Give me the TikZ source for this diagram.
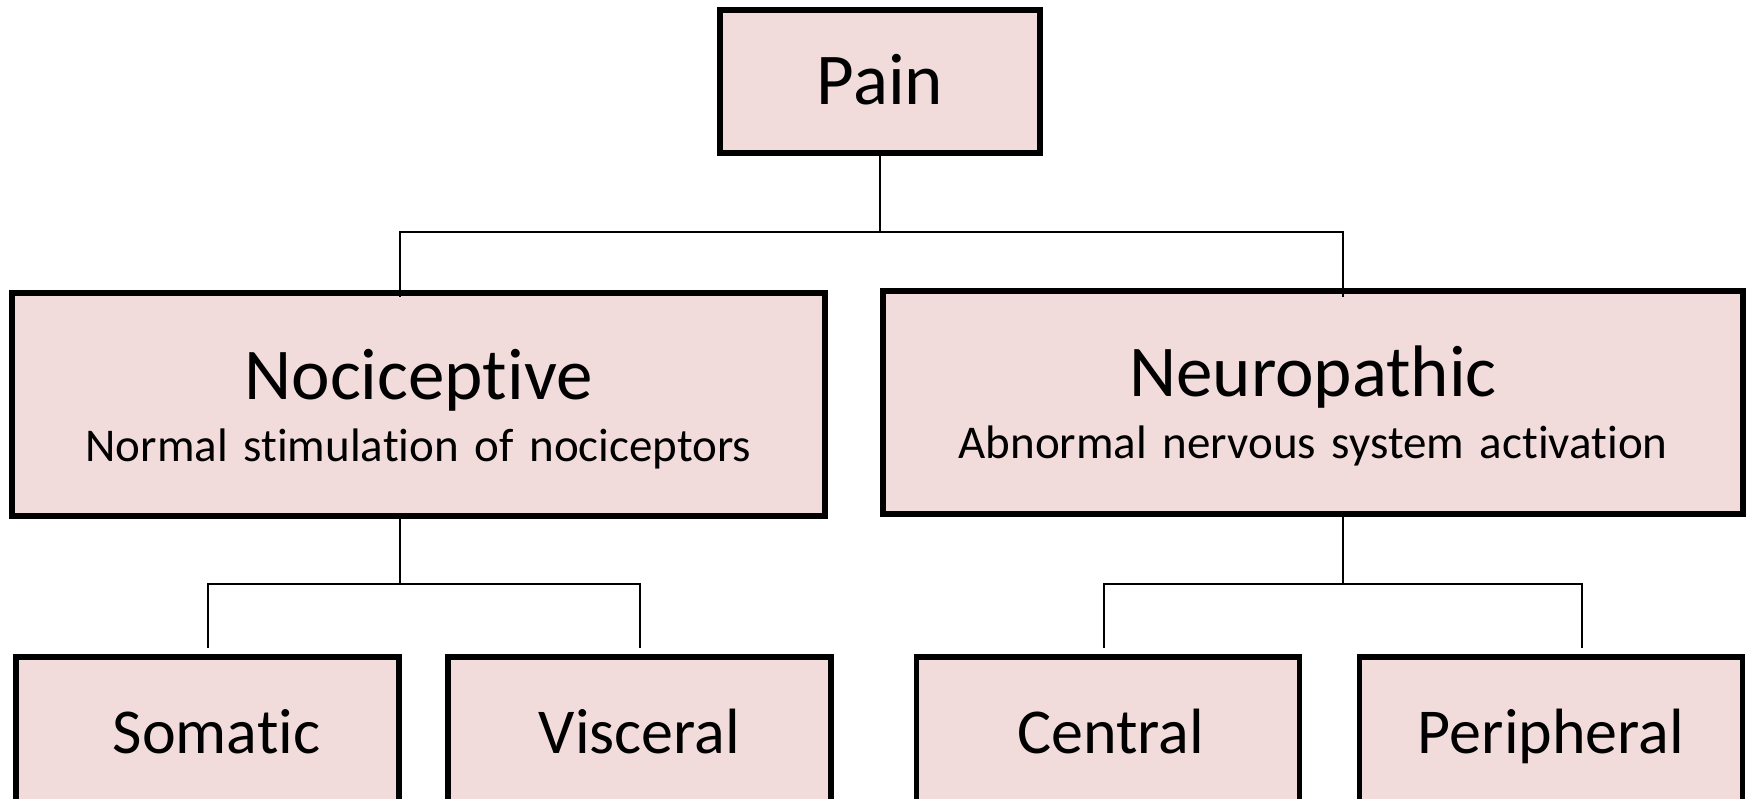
\documentclass[tikz,border=0pt]{standalone}
\usepackage{fontspec}
\setmainfont{Carlito}[Ligatures={NoCommon}]
\definecolor{boxfill}{HTML}{F2DCDB}
\tikzset{
  box/.style={draw=black, fill=boxfill, line width=5.5pt, rectangle, inner sep=0pt,
              anchor=base, align=center, font=\fontsize{47}{62}\selectfont},
  lowbox/.style={box, text width=383pt, text height=96pt, text depth=120pt,
              font=\fontsize{64}{64}\selectfont},
  conn/.style={draw=black, line width=2pt},
}
\begin{document}
\begin{tikzpicture}[x=1pt,y=-1pt]
\useasboundingbox (0,0) rectangle (1752,798);
% top
\node[box, text width=320pt, text height=94pt, text depth=49pt] (pain) at (880,104)
  {\fontsize{73}{73}\selectfont Pain};
% middle
\node[box, text width=813pt, text height=106pt, text depth=117pt] (noci) at (418.5,399)
  {{\fontsize{73}{73}\selectfont Nociceptive}\\Normal stimulation of nociceptors};
\node[box, text width=860pt, text height=105pt, text depth=118pt] (neuro) at (1313,396)
  {{\fontsize{73}{73}\selectfont Neuropathic}\\Abnormal nervous system activation};
% bottom
\node[lowbox] (soma) at (207.5,753) {\hspace*{18pt}Somatic};
\node[lowbox] (visc) at (639.5,753) {Visceral};
\node[lowbox] (cent) at (1108,753) {\hspace*{5pt}Central};
\node[lowbox] (peri) at (1551,753) {Peripheral};
% connector coordinates
\coordinate (b1) at (880,232);
\coordinate (nin) at (400,297);
\coordinate (rin) at (1343,297);
\coordinate (nout) at (400,517);
\coordinate (rout) at (1343,515);
\coordinate (b2) at (400,584);
\coordinate (b3) at (1343,584);
\coordinate (somin) at (208,648);
\coordinate (visin) at (640,648);
\coordinate (cenin) at (1104,648);
\coordinate (perin) at (1582,648);
% connectors
\draw[conn] (pain.south) -- (b1);
\draw[conn] (nin) |- (b1) -| (rin);
\draw[conn] (nout) -- (b2);
\draw[conn] (somin) |- (b2) -| (visin);
\draw[conn] (rout) -- (b3);
\draw[conn] (cenin) |- (b3) -| (perin);
\end{tikzpicture}
\end{document}
